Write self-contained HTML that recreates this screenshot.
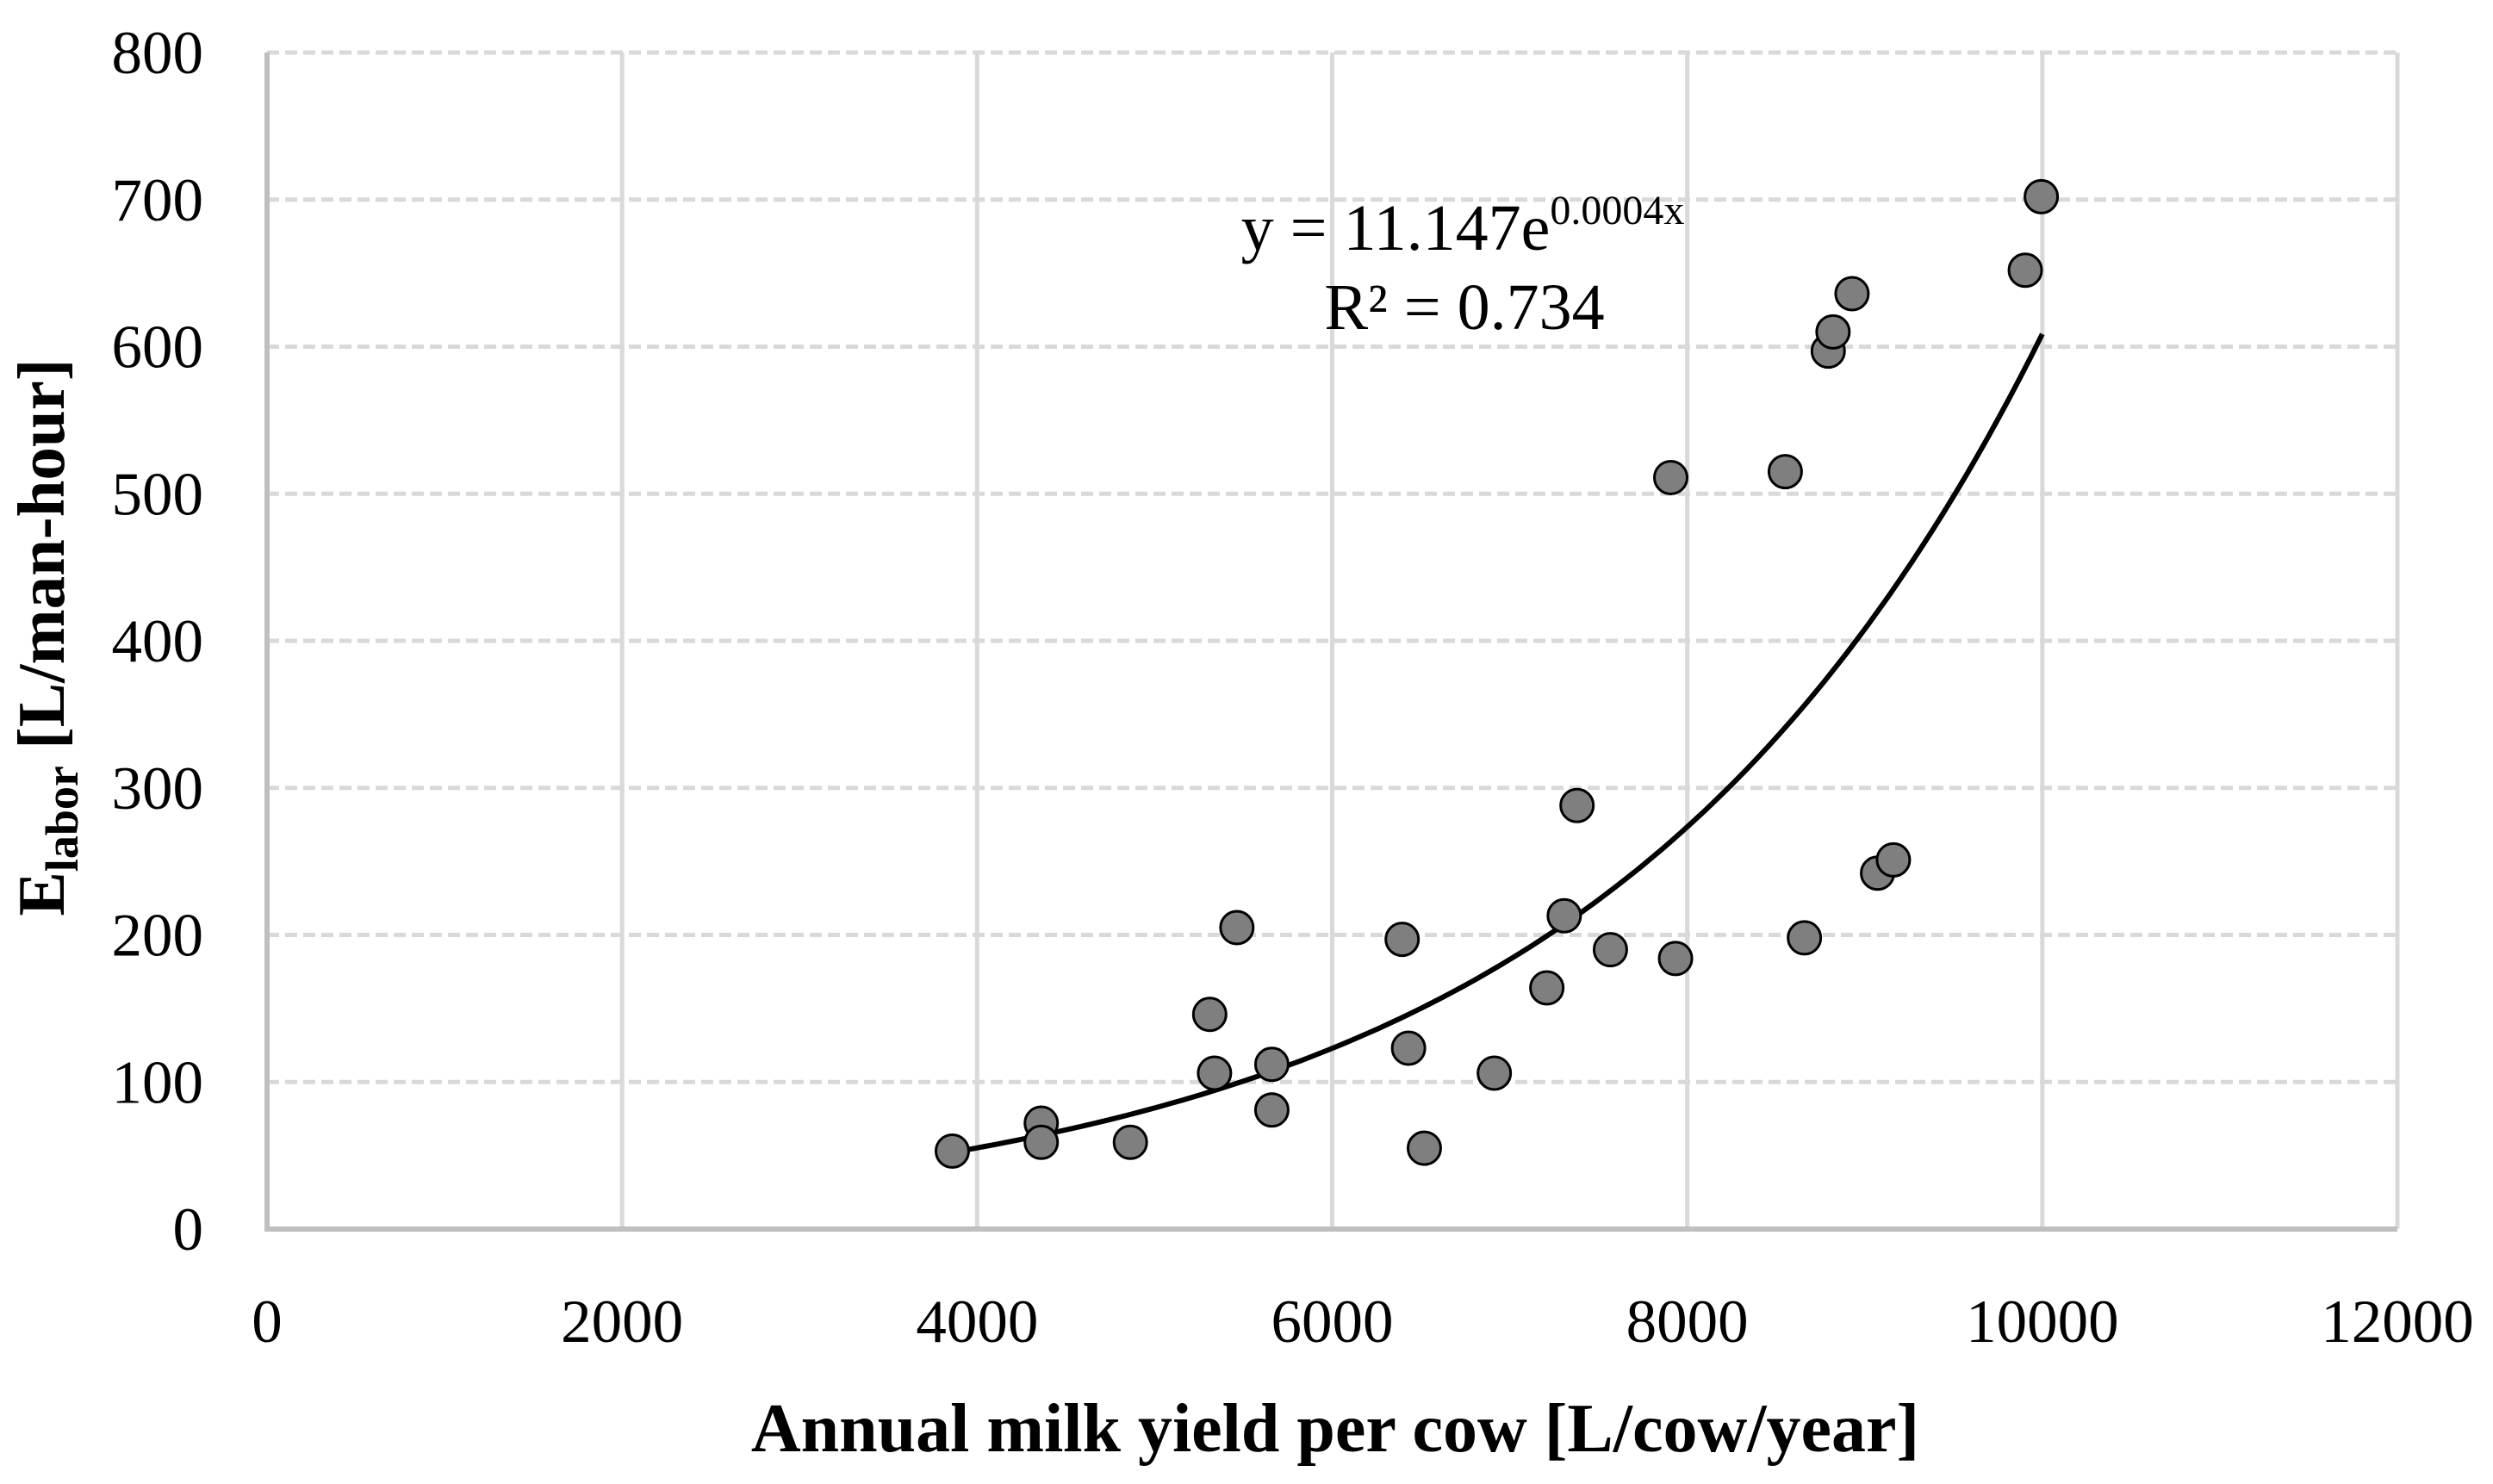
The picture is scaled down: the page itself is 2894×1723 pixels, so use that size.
<!DOCTYPE html>
<html><head><meta charset="utf-8"><style>
html,body{margin:0;padding:0;background:#fff;}
svg{display:block;font-family:"Liberation Serif",serif;}
</style></head><body>
<svg id="chart" width="2894" height="1723" viewBox="0 0 2894 1723" xmlns="http://www.w3.org/2000/svg">
<g id="grid"></g>
<g id="axes"></g>
<g id="trend"></g>
<g id="points"></g>
<g id="labels"></g>
<text x="1698" y="290" font-size="76" text-anchor="middle">y = 11.147e<tspan font-size="48" dy="-30">0.0004x</tspan></text>
<text x="1700" y="382" font-size="76" text-anchor="middle">R² = 0.734</text>
<text x="1550" y="1685" font-size="80" font-weight="bold" text-anchor="middle">Annual milk yield per cow [L/cow/year]</text>
<text transform="translate(74,740) rotate(-90)" font-size="77" font-weight="bold" text-anchor="middle">E<tspan font-size="54" dy="16">labor</tspan><tspan dy="-16"> [L/man-hour]</tspan></text>
</svg>
<script>
const xTicks = [0,2000,4000,6000,8000,10000,12000];
const yTicks = [0,100,200,300,400,500,600,700,800];
const milkYield = [3860,4361,4361,4863,5310,5337,5463,5660,5660,6394,6430,6519,6913,7209,7307,7379,7567,7907,7934,8552,8660,8794,8821,8928,9072,9161,9904,9994];
const laborEff = [53,72,59,59,146,106,205,112,81,197,123,55,106,164,213,288,190,511,184,515,198,597,610,636,242,251,652,702];
const trendA = 11.147, trendB = 0.0004, trendFrom = 3860, trendTo = 10000;

const NS='http://www.w3.org/2000/svg';
const X0=310, X1=2783, Y0=1427, Y1=61;
const sx=v=>X0+(v-0)/(12000-0)*(X1-X0);
const sy=v=>Y0-(v-0)/(800-0)*(Y0-Y1);
function mk(tag,parent){const e=document.createElementNS(NS,tag);document.getElementById(parent).appendChild(e);return e;}

xTicks.forEach(t=>{
  if(t>0){const l=mk('line','grid');
  
  
  l.setAttribute('x1',sx(t));l.setAttribute('x2',sx(t));l.setAttribute('y1',Y1);l.setAttribute('y2',Y0);
  l.setAttribute('stroke','#d9d9d9');l.setAttribute('stroke-width','5');}
  const tx=mk('text','labels');
  
  
  tx.setAttribute('x',sx(t));tx.setAttribute('y',1558);tx.setAttribute('font-size','71');tx.setAttribute('text-anchor','middle');
  tx.textContent=t;
});
yTicks.forEach(t=>{
  if(t>0){const l=mk('line','grid');
  
  
  l.setAttribute('x1',X0);l.setAttribute('x2',X1);l.setAttribute('y1',sy(t));l.setAttribute('y2',sy(t));
  l.setAttribute('stroke','#d9d9d9');l.setAttribute('stroke-width','5');l.setAttribute('stroke-dasharray','14 7');}
  const tx=mk('text','labels');
  
  
  tx.setAttribute('x',236);tx.setAttribute('y',sy(t)+24);tx.setAttribute('font-size','71');tx.setAttribute('text-anchor','end');
  tx.textContent=t;
});
const ax=mk('path','axes');


ax.setAttribute('d',`M${X0} ${Y1} L${X0} ${Y0} L${X1} ${Y0}`);
ax.setAttribute('stroke','#bfbfbf');ax.setAttribute('stroke-width','6');ax.setAttribute('fill','none');

let d='';
for(let i=0;i<=100;i++){const x=trendFrom+(trendTo-trendFrom)*i/100;const y=trendA*Math.exp(trendB*x);d+=(i?'L':'M')+sx(x).toFixed(1)+' '+sy(y).toFixed(1);}
const tr=mk('path','trend');


tr.setAttribute('d',d);tr.setAttribute('stroke','#000');tr.setAttribute('stroke-width','6');tr.setAttribute('fill','none');

milkYield.forEach((x,i)=>{
  const c=mk('circle','points');
  
  
  c.setAttribute('cx',sx(x));c.setAttribute('cy',sy(laborEff[i]));c.setAttribute('r','19');
  c.setAttribute('fill','#7f7f7f');c.setAttribute('stroke','#000');c.setAttribute('stroke-width','3');
});
</script>
</body></html>
